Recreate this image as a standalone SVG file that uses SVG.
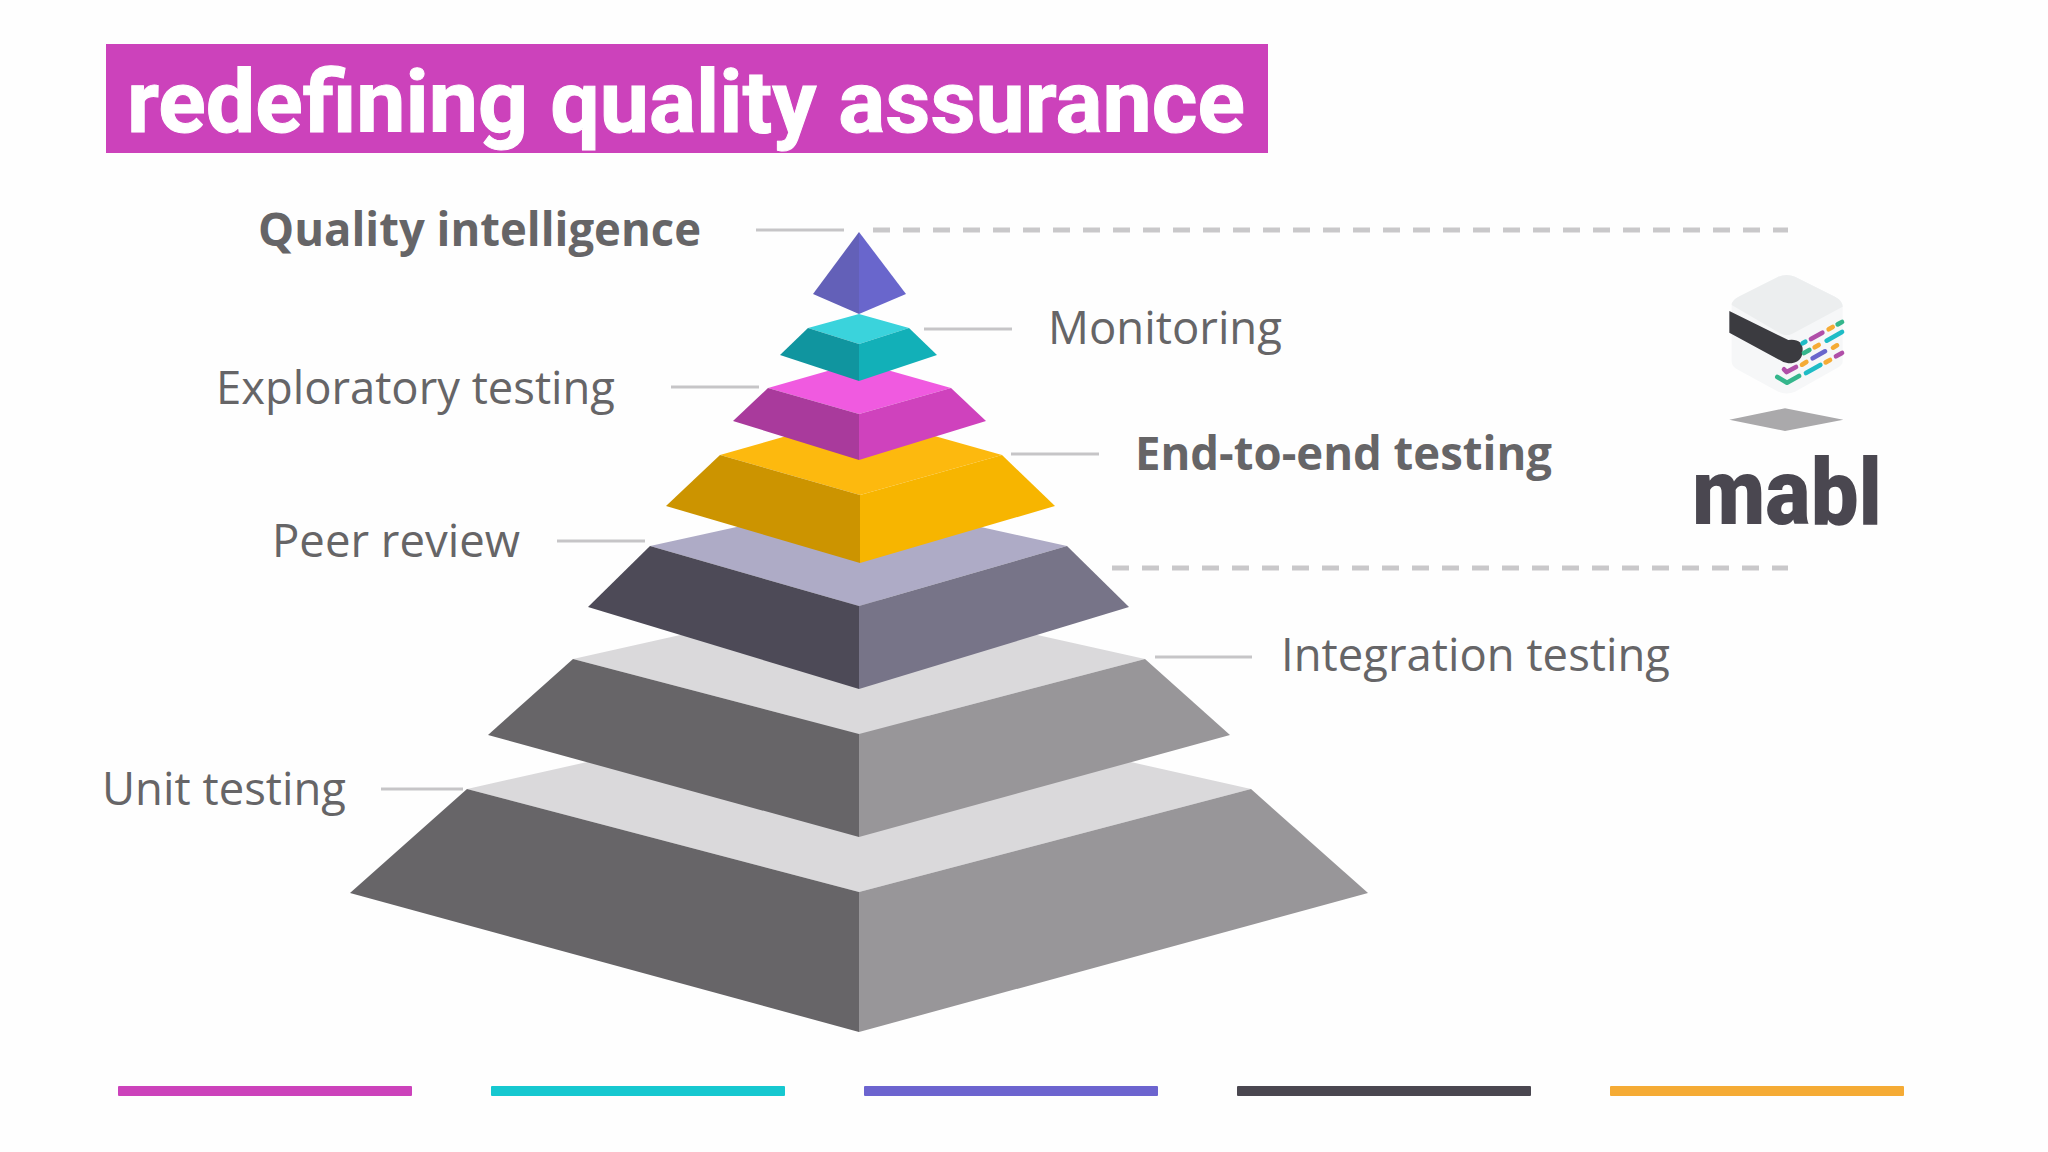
<svg xmlns="http://www.w3.org/2000/svg" width="2048" height="1152" viewBox="0 0 2048 1152">
<style>
.lbl{font-family:"Open Sans","Liberation Sans",sans-serif;font-size:46px;fill:#666567}
.b{font-weight:700}
.lead{stroke:#c6c5c7;stroke-width:3;fill:none}
.dash{stroke:#c9c8ca;stroke-width:5;stroke-dasharray:17 13;fill:none}
.gt{fill:#dad9db}.gl{fill:#676568}.gr{fill:#989699}
.d{fill:none;stroke-width:14;stroke-linecap:round;stroke-linejoin:round}
</style>
<rect width="2048" height="1152" fill="#fefefe"/>
<g id="title">
<rect x="106" y="44" width="1162" height="109" fill="#cc42bb"/>
<text x="127" y="132" font-family="Roboto,'Liberation Sans',sans-serif" font-weight="700" font-size="88" fill="#fff" stroke="#fff" stroke-width="1" textLength="1118" lengthAdjust="spacingAndGlyphs">redefining quality assurance</text>
</g>
<g id="connectors">
<line class="lead" x1="756" y1="230" x2="844" y2="230"/>
<line class="dash" x1="873" y1="230" x2="1788" y2="230"/>
<line class="lead" x1="924" y1="329" x2="1012" y2="329"/>
<line class="lead" x1="671" y1="387" x2="759" y2="387"/>
<line class="lead" x1="1011" y1="454" x2="1099" y2="454"/>
<line class="lead" x1="557" y1="541" x2="645" y2="541"/>
<line class="dash" x1="1112" y1="568" x2="1788" y2="568"/>
<line class="lead" x1="1155" y1="657" x2="1252" y2="657"/>
<line class="lead" x1="381" y1="789" x2="463" y2="789"/>
</g>
<g id="layer-unit">
<polygon class="gt" points="467,789 859,701 1251,789 859,892"/>
<polygon class="gl" points="350,893 467,789 859,892 859,1032"/>
<polygon class="gr" points="1368,893 1251,789 859,892 859,1032"/>
<text class="lbl" x="102" y="805" textLength="244" lengthAdjust="spacingAndGlyphs">Unit testing</text>
</g>
<g id="layer-integration">
<polygon class="gt" points="573,659 859,595 1145,659 859,734"/>
<polygon class="gl" points="488,735 573,659 859,734 859,837"/>
<polygon class="gr" points="1230,735 1145,659 859,734 859,837"/>
<text class="lbl" x="1281" y="671" textLength="389" lengthAdjust="spacingAndGlyphs">Integration testing</text>
</g>
<g id="layer-peer">
<polygon fill="#aeabc6" points="650,546 859,500 1067,546 859,606"/>
<polygon fill="#4d4a57" points="588,607 650,546 859,606 859,689"/>
<polygon fill="#777488" points="1129,607 1067,546 859,606 859,689"/>
<text class="lbl" x="272" y="557" textLength="248" lengthAdjust="spacingAndGlyphs">Peer review</text>
</g>
<g id="layer-e2e">
<polygon fill="#fdb90e" points="720,455 860,415 1002,455 860,495"/>
<polygon fill="#cc9400" points="666,506 720,455 860,495 860,563"/>
<polygon fill="#f7b500" points="1055,506 1002,455 860,495 860,563"/>
<text class="lbl b" x="1135" y="470" textLength="417" lengthAdjust="spacingAndGlyphs">End-to-end testing</text>
</g>
<g id="layer-exploratory">
<polygon fill="#f05ae0" points="768,388 859,362 951,388 859,414"/>
<polygon fill="#a93a9c" points="733,421 768,388 859,414 859,460"/>
<polygon fill="#cf42bd" points="986,421 951,388 859,414 859,460"/>
<text class="lbl" x="216" y="404" textLength="399" lengthAdjust="spacingAndGlyphs">Exploratory testing</text>
</g>
<g id="layer-monitoring">
<polygon fill="#3ad3dc" points="808,328 859,314 909,328 859,344"/>
<polygon fill="#10959f" points="780,355 808,328 859,344 859,381"/>
<polygon fill="#12b0b8" points="937,355 909,328 859,344 859,381"/>
<text class="lbl" x="1048" y="344" textLength="234" lengthAdjust="spacingAndGlyphs">Monitoring</text>
</g>
<g id="layer-intelligence">
<polygon fill="#6360b8" points="859,232 813,294 859,314"/>
<polygon fill="#6966cc" points="859,232 906,294 859,314"/>
<text class="lbl b" x="258" y="246" textLength="443" lengthAdjust="spacingAndGlyphs">Quality intelligence</text>
</g>
<g id="mabl-logo">
<g transform="translate(1660 250) scale(.33333)">
<path d="M215 165 Q215 150 240 138 L355 80 Q380 70 405 80 L525 140 Q548 152 548 170 L548 335 Q548 345 530 355 L405 425 Q380 436 355 425 L235 360 Q215 350 215 335Z" fill="#f6f7f8"/>
<path d="M215 165 Q215 150 240 138 L355 80 Q380 70 405 80 L525 140 Q548 152 548 170 L400 250 Q380 262 360 250Z" fill="#eceeef"/>
<path d="M208 183 L385 270 Q428 265 428 300 Q428 340 385 340 L370 336 L208 248Z" fill="#3b3b40"/>
<g class="d">
<path d="M453 267L487 248" stroke="#b04fa8"/>
<path d="M506 238L518 231" stroke="#f5ab35"/>
<path d="M533 223L546 216M432 309L448 300" stroke="#35b68c"/>
<path d="M428 280L436 275M500 272L546 246M438 369L481 345" stroke="#1fbcc6"/>
<path d="M464 292L476 285M519 293L531 286M426 344L439 336M497 337L510 330" stroke="#f5ab35"/>
<path d="M458 325L495 304" stroke="#6966cc"/>
<path d="M528 319L546 309M372 358L380 366L408 351" stroke="#b04fa8"/>
<path d="M352 381L381 398L417 378" stroke="#35b68c"/>
</g>
<polygon points="208,509 375,475 550,509 375,543" fill="#aaa9ab"/>
</g>
<text x="1692" y="524" font-family="Roboto,'Liberation Sans',sans-serif" font-weight="900" font-size="92" fill="#4a4750" textLength="190" lengthAdjust="spacingAndGlyphs">mabl</text>
</g>
<g id="bars">
<rect x="118" y="1086" width="294" height="10" rx="1" fill="#cc42bb"/>
<rect x="491" y="1086" width="294" height="10" rx="1" fill="#16c8d0"/>
<rect x="864" y="1086" width="294" height="10" rx="1" fill="#6c64cf"/>
<rect x="1237" y="1086" width="294" height="10" rx="1" fill="#4a4750"/>
<rect x="1610" y="1086" width="294" height="10" rx="1" fill="#f5ab35"/>
</g>
</svg>
